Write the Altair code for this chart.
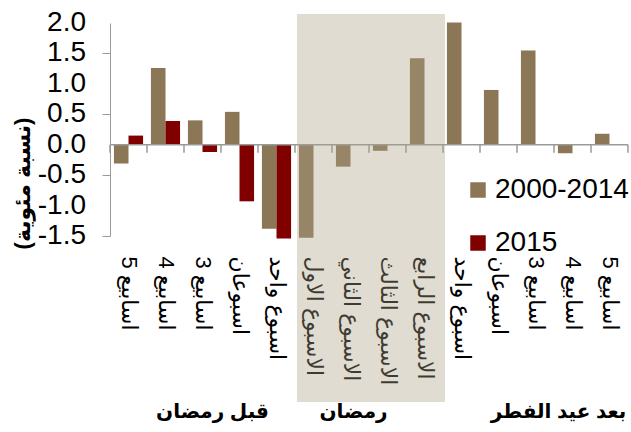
import json
import altair as alt
import pandas as pd

# Weekly deviations around Ramadan (percentage points)
week_labels = [
    "5 اسابيع", "4 اسابيع", "3 اسابيع", "اسبوعان", "اسبوع واحد",
    "الاسبوع الاول", "الاسبوع الثاني", "الاسبوع الثالث", "الاسبوع الرابع",
    "اسبوع واحد", "اسبوعان", "3 اسابيع", "4 اسابيع", "5 اسابيع",
]
avg_2000_2014 = [-0.31, 1.26, 0.40, 0.54, -1.38,
                 -1.53, -0.36, -0.10, 1.42,
                 2.01, 0.90, 1.55, -0.14, 0.18]
year_2015 = [0.15, 0.39, -0.12, -0.93, -1.54]
y_ticks = [-1.5, -1.0, -0.5, 0.0, 0.5, 1.0, 1.5, 2.0]

series_names = ["2000-2014", "2015"]
series_colors = ["#8B7655", "#800000"]

ramadan_positions = [5, 6, 7, 8]
group_names = ["قبل رمضان", "رمضان", "بعد عيد الفطر"]
group_anchor = [2, 6, 12]
group_shift = [10, 3, -14]

Y_TITLE = "(نسبة مئوية)"

rows = []
for i, v in enumerate(avg_2000_2014):
    rows.append({"pos": i, "series": series_names[0], "value": v})
for i, v in enumerate(year_2015):
    rows.append({"pos": i, "series": series_names[1], "value": v})
bars_df = pd.DataFrame(rows)

positions = list(range(len(week_labels)))
x_scale = alt.Scale(domain=positions, paddingInner=0, paddingOuter=0)
y_scale = alt.Scale(domain=[-1.5, 2.0], nice=False, zero=False)

FONT = "Liberation Sans, DejaVu Sans, sans-serif"
AXIS_GRAY = "#9A9A9A"

label_expr = json.dumps(week_labels, ensure_ascii=False) + "[datum.value]"

bars = alt.Chart(bars_df).mark_bar().encode(
    x=alt.X(
        "pos:O",
        scale=x_scale,
        title=None,
        axis=alt.Axis(
            orient="bottom", domain=False, ticks=False, labelAngle=90,
            labelExpr=label_expr, labelPadding=20, labelFontSize=22,
            labelFont=FONT, labelColor="#000000", labelOverlap=False,
            labelAlign="left", labelBaseline="middle",
        ),
    ),
    xOffset=alt.XOffset(
        "series:N",
        scale=alt.Scale(domain=series_names, paddingInner=0, paddingOuter=0.27),
    ),
    y=alt.Y(
        "value:Q",
        scale=y_scale,
        title=Y_TITLE,
        axis=alt.Axis(
            values=y_ticks, labels=False,
            grid=False, domainColor=AXIS_GRAY, tickColor=AXIS_GRAY,
            tickSize=8, titleFont=FONT,
            titleFontSize=22, titleFontWeight="bold", titleColor="#000000",
            titleX=-88, titleY=160, titleBaseline="middle", titleAngle=270,
        ),
    ),
    color=alt.Color(
        "series:N",
        scale=alt.Scale(domain=series_names, range=series_colors),
        legend=alt.Legend(
            title=None, orient="none", legendX=354, legendY=153,
            symbolType="square", symbolSize=240, symbolStrokeWidth=0,
            labelFontSize=28, labelFont=FONT, labelColor="#000000",
            labelOffset=3, rowPadding=25,
        ),
    ),
)

# value labels of the left axis, written with a plain hyphen for negatives
tick_labels_df = pd.DataFrame({
    "value": y_ticks,
    "label": [f"{v:.1f}" for v in y_ticks],
})
y_labels = alt.Chart(tick_labels_df).mark_text(
    font=FONT, fontSize=28, color="#000000", align="right", baseline="middle",
).encode(
    y=alt.Y("value:Q", title=Y_TITLE),
    x=alt.value(-24),
    text="label:N",
)

zero_line = alt.Chart(pd.DataFrame({"v": [0.0]})).mark_rule(
    color=AXIS_GRAY, strokeWidth=1.5
).encode(y=alt.datum(0.0))

tick_df = pd.DataFrame({"pos": positions})
boundary_ticks = alt.Chart(tick_df).mark_rule(
    color=AXIS_GRAY, strokeWidth=1.5, y2Offset=8
).encode(
    x=alt.X("pos:O", title=None, bandPosition=0),
    y=alt.datum(0.0),
    y2=alt.datum(0.0),
)
end_tick = alt.Chart(pd.DataFrame({"pos": [positions[-1]]})).mark_rule(
    color=AXIS_GRAY, strokeWidth=1.5, y2Offset=8
).encode(
    x=alt.X("pos:O", title=None, bandPosition=1),
    y=alt.datum(0.0),
    y2=alt.datum(0.0),
)

shade = alt.Chart(pd.DataFrame({"pos": ramadan_positions})).mark_rect(
    color="#ABA084", opacity=0.37, xOffset=2
).encode(
    x=alt.X("pos:O", title=None),
    y=alt.value(-9),
    y2=alt.value(379),
)

groups_df = pd.DataFrame({"pos": group_anchor, "name": group_names})
group_text = alt.layer(*[
    alt.Chart(groups_df.iloc[[k]]).mark_text(
        font=FONT, fontSize=20, fontWeight="bold", color="#000000",
        dx=group_shift[k], baseline="middle", align="center",
    ).encode(
        x=alt.X("pos:O", title=None),
        y=alt.value(389),
        text="name:N",
    )
    for k in range(len(group_names))
])

chart = (
    alt.layer(bars, y_labels, zero_line, boundary_ticks, end_tick, shade, group_text)
    .properties(
        width=518,
        height=213,
        autosize=alt.AutoSizeParams(type="none"),
        padding={"left": 110, "top": 23, "right": 3, "bottom": 196},
    )
    .configure_view(stroke=None)
    .configure_axis(labelFlush=False)
)

chart.save("out.html", embed_options={"renderer": "svg", "actions": False})
